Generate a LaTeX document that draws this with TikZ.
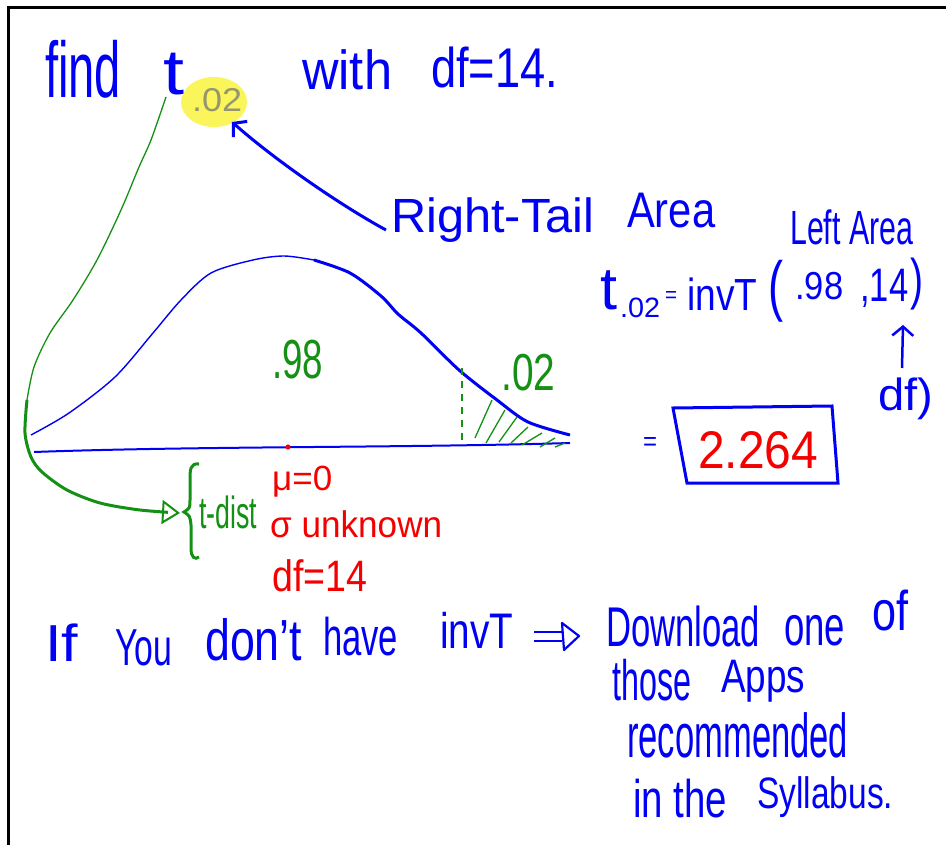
\documentclass[tikz,border=0pt]{standalone}
\usepackage{fontspec}
\setmainfont{Liberation Sans}
\usepackage{graphicx}
\usetikzlibrary{arrows.meta,shapes.geometric}
\definecolor{pen}{RGB}{0,0,245}
\definecolor{gpen}{RGB}{20,145,20}
\definecolor{rpen}{RGB}{245,0,0}
\definecolor{hlc}{RGB}{250,245,90}
\definecolor{grc}{RGB}{150,150,110}
\newcommand{\fb}[3]{\resizebox*{#1pt}{#2pt}{#3}}
\newcommand{\fw}[3]{{\fontsize{#1pt}{#1pt}\selectfont\resizebox{#2pt}{\height}{#3}}}
\begin{document}
\begin{tikzpicture}[x=1pt,y=-1pt,
  hw/.style={inner sep=0pt, anchor=north west},
  bw/.style={inner sep=0pt, anchor=base west},
  bluetxt/.style={bw,text=pen},
  greentxt/.style={bw,text=gpen},
  redtxt/.style={bw,text=rpen},
  barb/.style={-{Straight Barb[length=9pt,width=21pt]}}]
\useasboundingbox (0,0) rectangle (946,845);
\fill[white] (0,0) rectangle (946,845);
\draw[line width=3pt] (8,845) -- (8,8) -- (946,8);

% title
\node[ellipse, fill=hlc, minimum width=66pt, minimum height=50pt, inner sep=0pt] (hl) at (214,102) {};
\node[bluetxt] (find) at (45,98) {\fw{79}{76}{find}};
\node[bluetxt] (t) at (163,95) {\fw{64}{21}{t}};
\node[bw,text=grc] (sub) at (192,112) {\fw{33}{50}{.02}};
\node[bluetxt] (with) at (302,90) {\fw{55}{90}{with}};
\node[bluetxt] (df) at (431,88) {\fw{56}{127}{df=14.}};

% right tail label + arrow
\node[bluetxt] (rt) at (391,233) {\fw{48}{203}{Right-Tail}};
\node[bluetxt] (area) at (627,228) {\fw{50}{88}{Area}};
\coordinate (rtstart) at (386,230);
\coordinate (hltip) at (232,122);
\draw[pen, line width=3pt, barb] (rtstart) .. controls (340,205) and (275,160) .. (hltip);

% formula
\node[bluetxt] (left) at (790,245) {\fw{48}{123}{Left Area}};
\node[bluetxt] (ft) at (600,310) {\fw{60}{17}{t}};
\node[bluetxt] (fsub) at (620,318) {\fw{28}{40}{.02}};
\node[hw,text=pen] (feq) at (665,291) {\fb{12}{11}{=}};
\node[bluetxt] (finv) at (687,310) {\fw{45}{70}{invT}};
\node[hw,text=pen] (fpl) at (768,260) {\fb{15}{62}{(}};
\node[bluetxt] (f98) at (795,300) {\fw{39}{48}{.98}};
\node[bluetxt] (f14) at (860,302) {\fw{47}{48}{,14}};
\node[hw,text=pen] (fpr) at (910,258) {\fb{13}{52}{)}};
\node[bluetxt] (dfp) at (878,410) {\fw{45}{55}{df)}};
\coordinate (ua) at (902,368);
\coordinate (ub) at (903,325);
\draw[pen, line width=2.5pt, barb] (ua) -- (ub);

% answer
\node[hw,text=pen] (eq2) at (643,437) {\fb{14}{13}{=}};
\node[redtxt] (ans) at (698,468) {\fw{53}{120}{2.264}};
\draw[pen, line width=3pt] (673,408) -- (832,406) -- (838,483) -- (687,483) -- cycle;

% bell curve
\draw[pen, line width=1.4pt] plot[smooth] coordinates {(31,435) (69,413) (115,377) (153,333) (181,300) (211,273) (253,260) (284,256) (314,260)};
\draw[pen, line width=3pt] plot[smooth] coordinates {(314,260) (350,273) (381,296) (398,314) (421,333) (459,370) (497,400) (528,422) (570,435)};
\draw[pen, line width=2pt] (34,452) .. controls (200,446) and (400,448) .. (570,443);
\fill[rpen] (288,447) circle (2.6);

% areas
\node[greentxt] (a98) at (272,378) {\fw{55}{51}{.98}};
\node[greentxt] (a02) at (501,390) {\fw{52}{54}{.02}};
\draw[gpen, line width=2.5pt, dash pattern=on 7pt off 6pt] (462,368) -- (462,443);
\foreach \a/\b/\c/\d in {475/438/492/400, 486/443/505/410, 499/442/517/417, 511/443/528/427, 522/445/542/433, 540/447/555/438, 555/447/565/443}
  \draw[gpen, line width=1.3pt] (\a,\b) -- (\c,\d);

% green connector from t to t-dist
\coordinate (tfoot) at (166,97);
\coordinate (bend) at (27,400);
\coordinate (tip) at (180,513);
\draw[gpen, line width=1.3pt] plot[smooth] coordinates {(tfoot) (151,140) (139,167) (121,210) (97,260) (73,300) (50,333) (34,367) (bend)};
\draw[gpen, line width=3pt, -{Triangle[open,length=18pt,width=24pt,line width=2pt]}] plot[smooth] coordinates {(bend) (25,433) (31,457) (42,472) (67,490) (100,503) (140,510) (tip)};

% brace and t-dist
\draw[gpen, line width=3pt] (199,464) .. controls (190,463) and (190,470) .. (190,480) -- (190,500) .. controls (190,508) .. (184,512) .. controls (190,516) .. (191,525) -- (191,548) .. controls (191,558) and (195,560) .. (199,557);
\node[greentxt] (tdist) at (199,528) {\fw{45}{58}{t-dist}};
\node[redtxt] (mu) at (272,490) {\fw{35}{60}{μ=0}};
\node[redtxt] (sig) at (270,537) {\fw{37}{172}{σ unknown}};
\node[redtxt] (df2) at (272,591) {\fw{44}{95}{df=14}};

% bottom text
\node[bluetxt] (w1) at (45,661) {\fw{52}{33}{If}};
\node[bluetxt] (w2) at (115,665) {\fw{52}{57}{You}};
\node[bluetxt] (w3) at (205,660) {\fw{58}{97}{don't}};
\node[bluetxt] (w4) at (323,655) {\fw{53}{75}{have}};
\node[bluetxt] (w5) at (440,648) {\fw{50}{73}{invT}};
\coordinate (ia1) at (534,632);
\coordinate (ia2) at (562,632);
\coordinate (ib1) at (534,641);
\coordinate (ib2) at (562,641);
\draw[pen, line width=2.2pt] (ia1) -- (ia2) (ib1) -- (ib2);
\draw[pen, line width=2.2pt, line join=round] (562,623) -- (579,636) -- (564,650) -- cycle;
\node[bluetxt] (w6) at (606,646) {\fw{56}{154}{Download}};
\node[bluetxt] (w7) at (784,645) {\fw{56}{61}{one}};
\node[bluetxt] (w8) at (872,630) {\fw{56}{36}{of}};
\node[bluetxt] (w9) at (612,700) {\fw{57}{79}{those}};
\node[bluetxt] (w10) at (721,692) {\fw{47}{84}{Apps}};
\node[bluetxt] (w11) at (627,757) {\fw{62}{221}{recommended}};
\node[bluetxt] (w12) at (633,817) {\fw{53}{94}{in the}};
\node[bluetxt] (w13) at (757,808) {\fw{44}{136}{Syllabus.}};
\end{tikzpicture}
\end{document}
